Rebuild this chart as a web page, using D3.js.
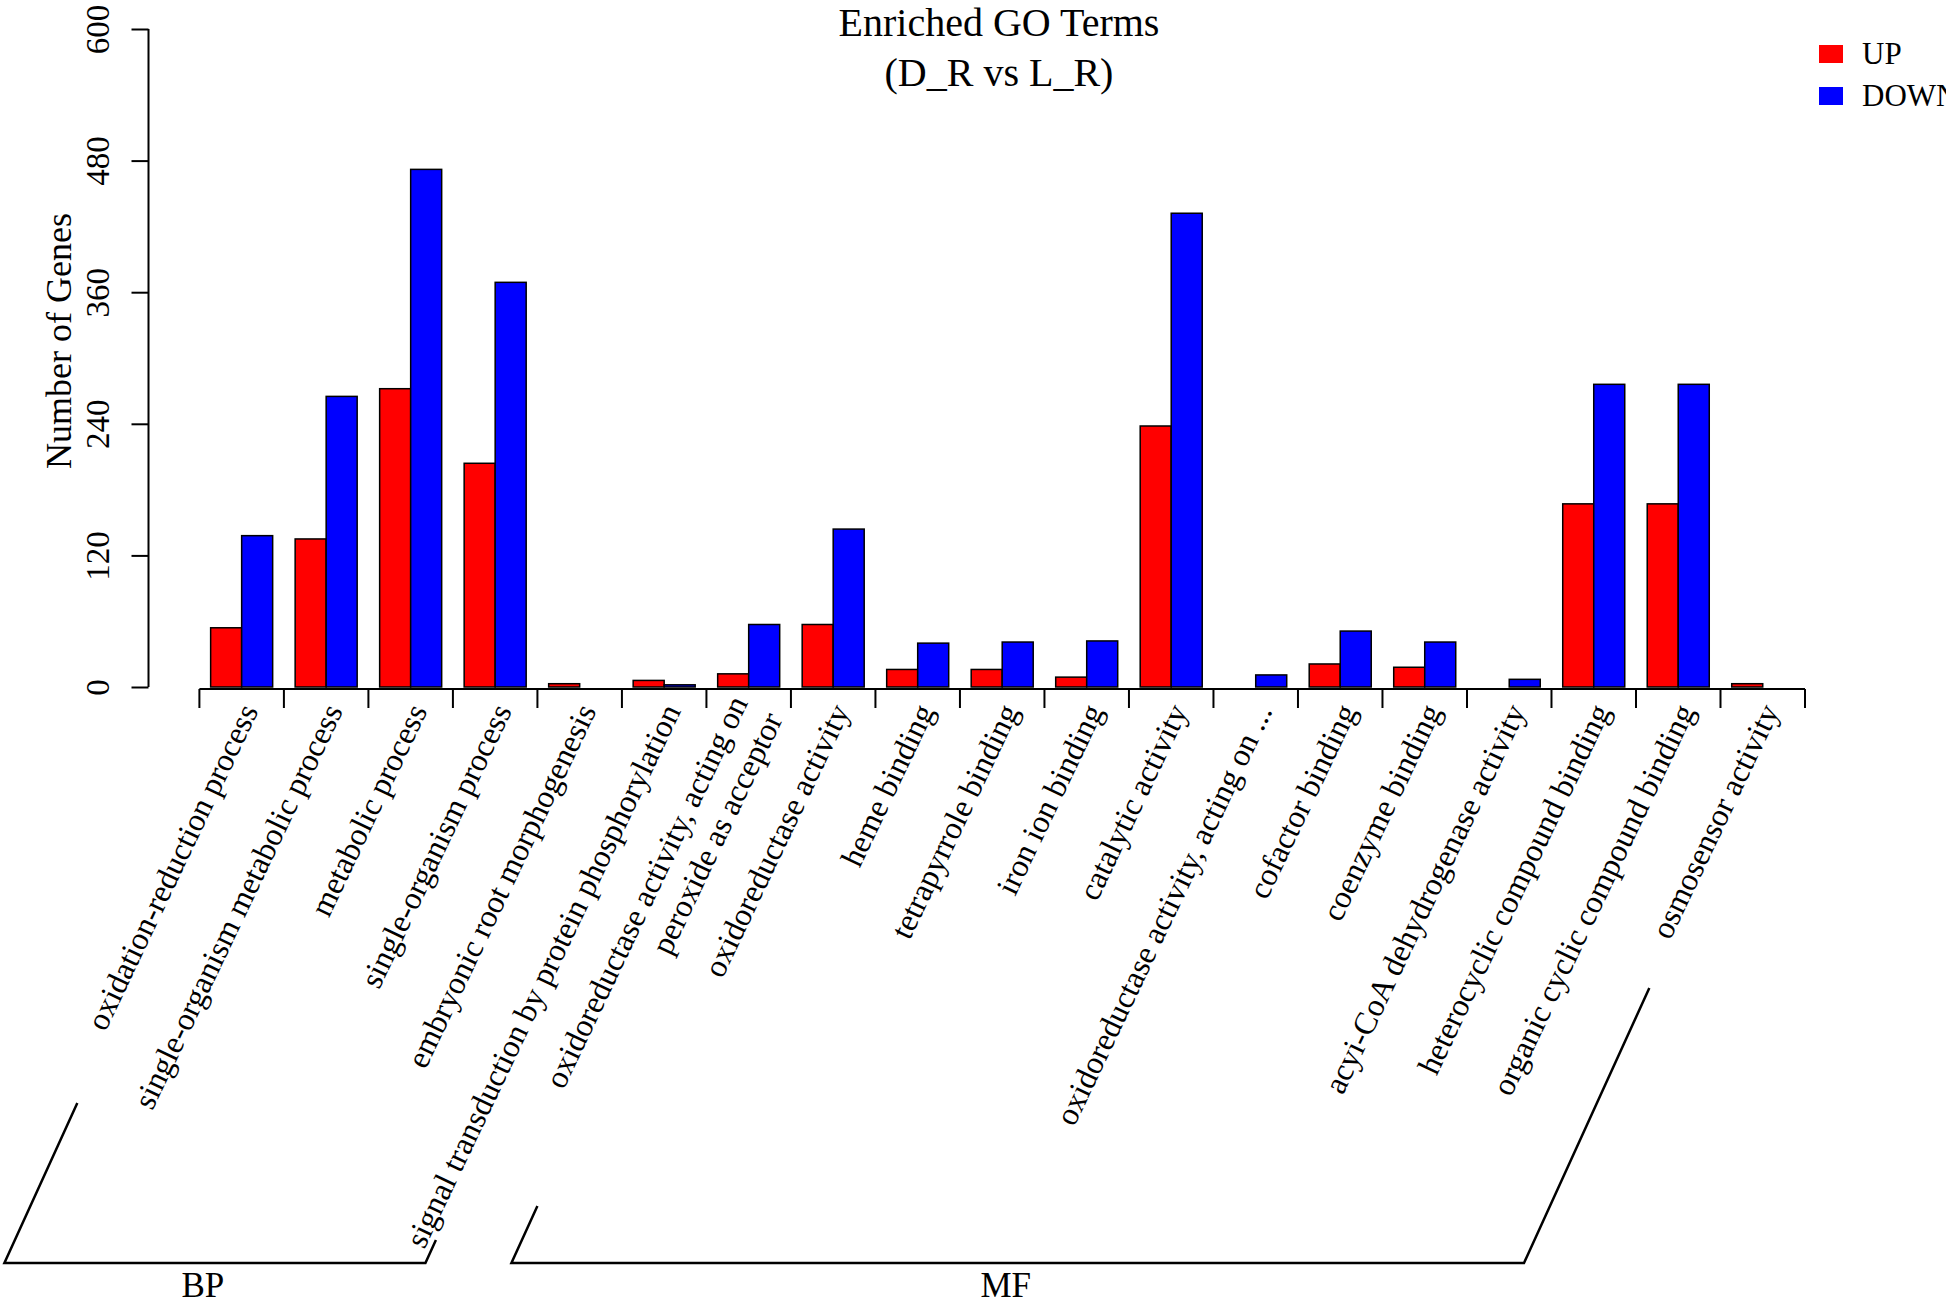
<!DOCTYPE html>
<html><head><meta charset="utf-8">
<script src="https://cdn.jsdelivr.net/npm/d3@7"></script>
<style>html,body{margin:0;padding:0;background:#fff;}svg{display:block;}</style>
</head><body>
<script>
const categories = [
  "oxidation-reduction process",
  "single-organism metabolic process",
  "metabolic process",
  "single-organism process",
  "embryonic root morphogenesis",
  "signal transduction by protein phosphorylation",
  "oxidoreductase activity, acting on\nperoxide as acceptor",
  "oxidoreductase activity",
  "heme binding",
  "tetrapyrrole binding",
  "iron ion binding",
  "catalytic activity",
  "oxidoreductase activity, acting on ...",
  "cofactor binding",
  "coenzyme binding",
  "acyi-CoA dehydrogenase activity",
  "heterocyclic compound binding",
  "organic cyclic compound binding",
  "osmosensor activity"
];
const upValues   = [54, 135, 272, 204, 3, 6, 12, 57, 16, 16, 9, 238, 0, 21, 18, 0, 167, 167, 3];
const downValues = [138, 265, 472, 369, 0, 2, 57, 144, 40, 41, 42, 432, 11, 51, 41, 7, 276, 276, 0];
const yTicks = [0, 120, 240, 360, 480, 600];
const seriesNames = ["UP", "DOWN"];
const seriesColors = ["#ff0000", "#0000ff"];
const classNames = ["BP", "MF"];
const classFirst = [0, 6];
const classLast = [5, 18];

const W = 1946, H = 1306;
const FONT = "'Liberation Serif','Times New Roman',serif";
const layout = {
  plotLeft: 199.4, plotRight: 1805, yTop: 29, yBottom: 687, axisX: 148.5, xAxisY: 689,
  labelY: 706, labelDx: 7, angle: 64.5, bracketAngle: 65.5,
  bracketBase: 1263, bracketLeftOff: 195, bracketRightOff: 281,
  bracketTopL: [1103, 1206], bracketTopR: [1240, 988]
};

const svg = d3.select("body").append("svg").attr("width", W).attr("height", H)
  .style("font-family", FONT);
svg.append("rect").attr("width", W).attr("height", H).attr("fill", "#fff");

const x = d3.scaleBand().domain(d3.range(categories.length))
  .range([layout.plotLeft, layout.plotRight]).paddingInner(0.266).paddingOuter(0.133);
const y = d3.scaleLinear().domain([0, 600]).range([layout.yBottom, layout.yTop]);
const bw = x.bandwidth() / 2;

// bars
const rows = categories.map((c, i) => ({i, vals: [upValues[i], downValues[i]]}));
const g = svg.append("g");
rows.forEach(r => {
  r.vals.forEach((v, k) => {
    if (v <= 0) return;
    g.append("rect")
      .attr("x", x(r.i) + k * bw).attr("width", bw)
      .attr("y", y(v)).attr("height", y(0) - y(v))
      .attr("fill", seriesColors[k]).attr("stroke", "#000").attr("stroke-width", 1.5);
  });
});

// y axis
const yAxis = d3.axisLeft(y).tickValues(yTicks).tickSize(17).tickPadding(0).tickFormat(d3.format("d"));
const ya = svg.append("g").attr("transform", `translate(${layout.axisX},0)`).call(yAxis);
ya.select(".domain").attr("d", `M0,${y(0)}V${y(600)}`).attr("stroke-width", 2);
ya.selectAll(".tick line").attr("stroke-width", 2);
ya.selectAll(".tick text")
  .attr("transform", "rotate(-90)").attr("x", 0).attr("y", -51)
  .attr("dy", "0.35em").attr("text-anchor", "middle")
  .style("font-family", FONT).style("font-size", "33px").attr("fill", "#000");

// x axis ticks at group boundaries
const step = x.step();
const tickPos = d3.range(categories.length + 1).map(i => layout.plotLeft + i * step);
const xa = svg.append("g");
xa.append("line").attr("x1", tickPos[0]).attr("x2", tickPos[tickPos.length - 1])
  .attr("y1", layout.xAxisY).attr("y2", layout.xAxisY).attr("stroke", "#000").attr("stroke-width", 2);
xa.selectAll("line.t").data(tickPos).enter().append("line").attr("class", "t")
  .attr("x1", d => d).attr("x2", d => d).attr("y1", layout.xAxisY).attr("y2", layout.xAxisY + 19)
  .attr("stroke", "#000").attr("stroke-width", 2);

// category labels
categories.forEach((c, i) => {
  const cx = x(i) + x.bandwidth() / 2 + layout.labelDx;
  const t = svg.append("text")
    .attr("transform", `translate(${cx},${layout.labelY}) rotate(${-layout.angle})`)
    .attr("text-anchor", "end").style("font-size", "32px").attr("fill", "#000");
  const lines = c.split("\n");
  lines.forEach((ln, k) => {
    t.append("tspan").attr("x", 0)
      .attr("dy", k === 0 ? `${0.35 - (lines.length - 1) * 0.6}em` : "1.2em")
      .text(ln);
  });
});

// brackets
const cot = 1 / Math.tan(layout.bracketAngle * Math.PI / 180);
classNames.forEach((name, j) => {
  const base = layout.bracketBase;
  const xl = tickPos[classFirst[j]] - layout.bracketLeftOff;
  const xr = tickPos[classLast[j] + 1] - layout.bracketRightOff;
  const tl = layout.bracketTopL[j], tr = layout.bracketTopR[j];
  const path = `M${xl + (base - tl) * cot},${tl}L${xl},${base}L${xr},${base}L${xr + (base - tr) * cot},${tr}`;
  svg.append("path").attr("d", path).attr("fill", "none").attr("stroke", "#000").attr("stroke-width", 2.5);
  svg.append("text").attr("x", (xl + xr) / 2 - 12).attr("y", 1297)
    .attr("text-anchor", "middle").style("font-size", "35px").attr("fill", "#000").text(name);
});

// axis title
svg.append("text").attr("transform", `translate(71,341) rotate(-90)`)
  .attr("text-anchor", "middle").style("font-size", "36px").attr("fill", "#000").text("Number of Genes");

// title
svg.append("text").attr("x", 999).attr("y", 36).attr("text-anchor", "middle")
  .style("font-size", "40px").attr("fill", "#000").text("Enriched GO Terms");
svg.append("text").attr("x", 999).attr("y", 86).attr("text-anchor", "middle")
  .style("font-size", "40px").attr("fill", "#000").text("(D_R vs L_R)");

// legend
seriesNames.forEach((s, k) => {
  svg.append("rect").attr("x", 1819).attr("y", 45 + k * 42).attr("width", 24).attr("height", 18)
    .attr("fill", seriesColors[k]);
  svg.append("text").attr("x", 1862).attr("y", 64 + k * 42)
    .style("font-size", "31px").attr("fill", "#000").text(s);
});
</script>
</body></html>
